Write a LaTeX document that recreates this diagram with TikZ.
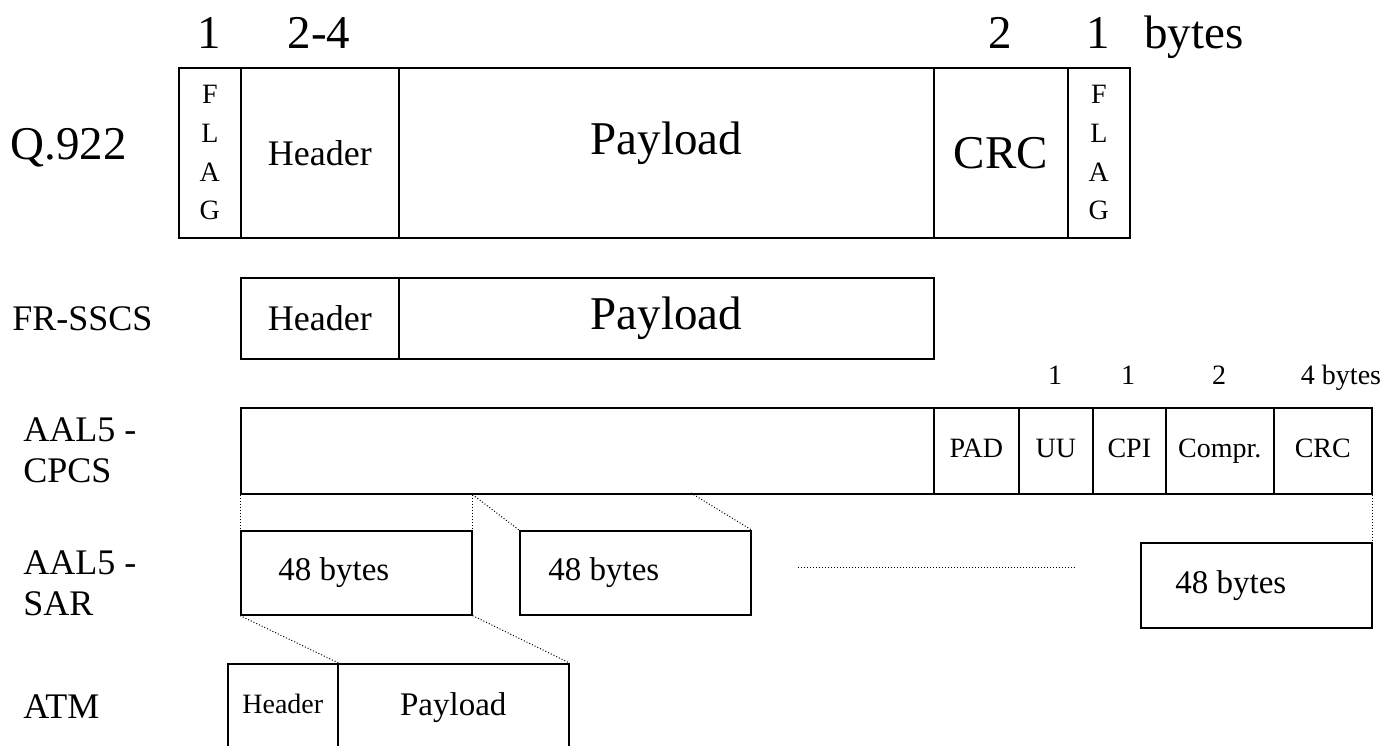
\documentclass[tikz,border=0pt]{standalone}
\usepackage{fontspec}
\setmainfont{Liberation Serif}
\usetikzlibrary{positioning}

\begin{document}
\begin{tikzpicture}[x=0.5pt, y=-0.5pt,
    cell/.style={rectangle, draw=black, line width=0.8pt, inner sep=0pt,
                 anchor=north west, align=center},
    one/.style={text depth=0.22em},
    wh/.style 2 args={minimum width=#1*0.5pt, minimum height=#2*0.5pt},
    txt/.style={inner sep=0pt},
    big/.style={font=\fontsize{23.5}{28}\selectfont},
    mid/.style={font=\fontsize{18}{20.5}\selectfont},
    med/.style={font=\fontsize{16.5}{19}\selectfont},
    small/.style={font=\fontsize{14}{16}\selectfont},
    flag/.style={font=\fontsize{14}{19.3}\selectfont},
    link/.style={densely dotted, line width=0.5pt}
]
    \clip (0,0) rectangle (1386,745);

    % row names
    \node[txt, big, anchor=west] (lq) at (10,148) {Q.922};
    \node[txt, mid, anchor=west] (lfr) at (12,319) {FR-SSCS};
    \node[txt, mid, anchor=west, align=left] (lcpcs) at (23,450) {AAL5 -\\CPCS};
    \node[txt, mid, anchor=west, align=left] (lsar) at (23,583) {AAL5 -\\SAR};
    \node[txt, mid, anchor=west] (latm) at (23,707) {ATM};

    % Q.922 frame
    \node[cell, wh={62}{170}, flag] (qflag1) at (178,67) {F\\L\\A\\G};
    \node[cell, wh={158}{170}, mid] (qhdr) at (240,67) {Header};
    \node[cell, wh={535}{170}, big] (qpay) at (398,67) {};
    \node[txt, big, yshift=5pt] (qpayt) at (qpay) {Payload};
    \node[cell, wh={134}{170}, big] (qcrc) at (933,67) {CRC};
    \node[cell, wh={62}{170}, flag] (qflag2) at (1067,67) {F\\L\\A\\G};
    \foreach \x/\lbl [count=\i] in {209/1, 319/2-4, 1000/2, 1098/1, 1194/bytes} {
        \node[txt, big, anchor=base] (qsz\i) at (\x,48) {\lbl};
    }

    % FR-SSCS
    \node[cell, wh={158}{81}, mid] (frhdr) at (240,277) {Header};
    \node[cell, wh={535}{81}, big] (frpay) at (398,277) {Payload};

    % AAL5 - CPCS
    \node[cell, wh={693}{86}] (cpay) at (240,407) {};
    \node[cell, one, wh={85}{86}, small] (cpad) at (933,407) {PAD};
    \node[cell, one, wh={74}{86}, small] (cuu) at (1018,407) {UU};
    \node[cell, one, wh={73}{86}, small] (ccpi) at (1092,407) {CPI};
    \node[cell, one, wh={108}{86}, small] (ccmp) at (1165,407) {Compr.};
    \node[cell, one, wh={98}{86}, small] (ccrc) at (1273,407) {CRC};
    \foreach \x/\lbl [count=\i] in {1055/1, 1128/1, 1219/2, 1341/4 bytes} {
        \node[txt, small, anchor=base] (csz\i) at (\x,384) {\lbl};
    }

    % AAL5 - SAR
    \node[cell, wh={231}{84}] (sar1) at (240,530) {};
    \node[cell, wh={231}{84}] (sar2) at (519,530) {};
    \node[cell, wh={231}{85}] (sar3) at (1140,542) {};
    \node[txt, med, right=19pt of sar1.west] (sart1) {48 bytes};
    \node[txt, med, right=14.5pt of sar2.west] (sart2) {48 bytes};
    \node[txt, med, right=17.5pt of sar3.west] (sart3) {48 bytes};
    \coordinate (gapl) at (798,567);
    \coordinate (gapr) at (1077,567);
    \draw[link] (gapl) -- (gapr);

    % ATM cell
    \node[cell, one, wh={110}{84}, small] (ahdr) at (227,663) {Header};
    \node[cell, one, wh={231}{84}, med] (apay) at (337,663) {Payload};

    % segmentation
    \coordinate (cut2) at (691,493);
    \draw[link] (cpay.south west) -- (sar1.north west);
    \draw[link] (sar1.north east |- cpay.south) -- (sar1.north east);
    \draw[link] (sar1.north east |- cpay.south) -- (sar2.north west);
    \draw[link] (cut2) -- (sar2.north east);
    \draw[link] (ccrc.south east) -- (sar3.north east);
    \draw[link] (sar1.south west) -- (ahdr.north east);
    \draw[link] (sar1.south east) -- (apay.north east);
\end{tikzpicture}
\end{document}
